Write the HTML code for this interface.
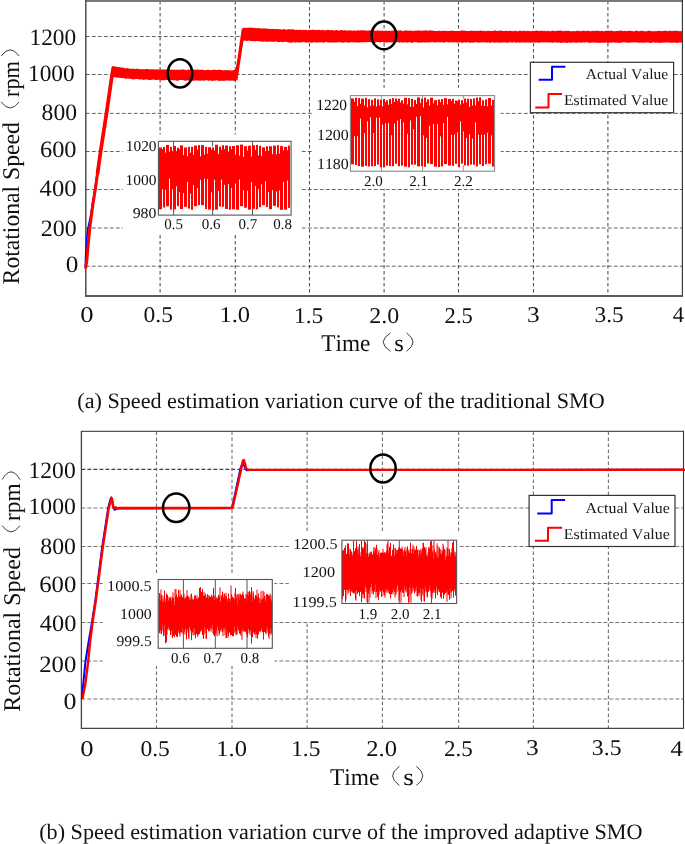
<!DOCTYPE html>
<html><head><meta charset="utf-8"><style>
html,body{margin:0;padding:0;background:#fff;}
body{width:685px;height:844px;overflow:hidden;}
svg{display:block;will-change:transform;}
text{font-family:"Liberation Serif",serif;font-kerning:none;text-rendering:geometricPrecision;}
</style></head><body>
<svg width="685" height="844" viewBox="0 0 685 844">
<rect width="685" height="844" fill="#fff"/>
<line x1="85.8" y1="266.2" x2="682.4" y2="266.2" stroke="#666" stroke-width="1" stroke-dasharray="3.9,2.1"/>
<line x1="85.8" y1="228" x2="682.4" y2="228" stroke="#666" stroke-width="1" stroke-dasharray="3.9,2.1"/>
<line x1="85.8" y1="189.5" x2="682.4" y2="189.5" stroke="#666" stroke-width="1" stroke-dasharray="3.9,2.1"/>
<line x1="85.8" y1="151.5" x2="682.4" y2="151.5" stroke="#666" stroke-width="1" stroke-dasharray="3.9,2.1"/>
<line x1="85.8" y1="113.4" x2="682.4" y2="113.4" stroke="#666" stroke-width="1" stroke-dasharray="3.9,2.1"/>
<line x1="85.8" y1="74.5" x2="682.4" y2="74.5" stroke="#666" stroke-width="1" stroke-dasharray="3.9,2.1"/>
<line x1="85.8" y1="36.5" x2="682.4" y2="36.5" stroke="#666" stroke-width="1" stroke-dasharray="3.9,2.1"/>
<line x1="160.1" y1="0.9" x2="160.1" y2="296" stroke="#555" stroke-width="1.1" stroke-dasharray="3.5,2.5"/>
<line x1="235.3" y1="0.9" x2="235.3" y2="296" stroke="#555" stroke-width="1.1" stroke-dasharray="3.5,2.5"/>
<line x1="309.5" y1="0.9" x2="309.5" y2="296" stroke="#555" stroke-width="1.1" stroke-dasharray="3.5,2.5"/>
<line x1="384.1" y1="0.9" x2="384.1" y2="296" stroke="#555" stroke-width="1.1" stroke-dasharray="3.5,2.5"/>
<line x1="458.5" y1="0.9" x2="458.5" y2="296" stroke="#555" stroke-width="1.1" stroke-dasharray="3.5,2.5"/>
<line x1="533.5" y1="0.9" x2="533.5" y2="296" stroke="#555" stroke-width="1.1" stroke-dasharray="3.5,2.5"/>
<line x1="607.9" y1="0.9" x2="607.9" y2="296" stroke="#555" stroke-width="1.1" stroke-dasharray="3.5,2.5"/>
<line x1="85" y1="0.9" x2="683" y2="0.9" stroke="#7a7a7a" stroke-width="2"/>
<line x1="85.8" y1="0" x2="85.8" y2="297" stroke="#4d4d4d" stroke-width="1.5"/>
<line x1="682.4" y1="0" x2="682.4" y2="297" stroke="#2e2e2e" stroke-width="1.1"/>
<line x1="85" y1="296" x2="683" y2="296" stroke="#5a5a5a" stroke-width="1.8"/>
<polyline points="85.3,266.5 85.6,256 86.3,245 87.6,230 90.8,215 92.2,205 94.8,189.5 100.1,151.5 106,113.4 112.5,74.6 235.5,74.6 243.5,36.6 682,36.6" fill="none" stroke="#0000ff" stroke-width="1.6" stroke-linejoin="round"/>
<polyline points="85.7,267.6 86.8,261 87.7,250 88.6,240 89.8,228 92.8,205 95.3,189.5 98,170" fill="none" stroke="#ff0000" stroke-width="3" stroke-linejoin="round" stroke-linecap="round"/>
<polyline points="97.6,173 100.6,151.5 106.5,113.4 110.6,85 113.2,68" fill="none" stroke="#ff0000" stroke-width="3.7" stroke-linejoin="round" stroke-linecap="round"/>
<polygon points="112.6,66.26 113.8,66.22 115,66.72 116,66.42 117,66.95 118,66.97 119,66.89 120,67.41 121,67.19 122,67.67 123,67.54 124,67.71 125,68.14 126,68.53 127,68.03 128,68.18 129,68.57 130,68.89 131,68.66 132,68.58 133,69.11 134,68.44 135,69.15 136,68.77 137,68.72 138,68.76 139,68.98 140,69.45 141,68.95 142,69.29 143,69.34 144,69.14 145,69.29 146,68.91 147,68.92 148,69.04 149,69.43 150,69.24 151,69.16 152,69.39 153,69.29 154,69.18 155,69.59 156,69.52 157,69.17 158,69.44 159,69.41 160,69.7 161,69.59 162,69.25 163,69.81 164,69.13 165,69.38 166,69.67 167,69.19 168,69.47 169,69.12 170,69.63 171,69.72 172,69.58 173,69.83 174,69.39 175,69.71 176,69.64 177,69.63 178,69.54 179,69.86 180,69.96 181.01,69.59 182.02,69.75 183.03,69.28 184.04,69.8 185.04,69.77 186.05,70.06 187.06,69.93 188.07,69.51 189.08,69.61 190.09,69.84 191.1,69.34 192.11,69.7 193.12,69.47 194.12,69.44 195.13,69.41 196.14,69.99 197.15,69.49 198.16,69.59 199.17,69.72 200.18,70.11 201.19,69.49 202.2,69.8 203.21,69.89 204.21,70.16 205.22,70.12 206.23,70.17 207.24,69.71 208.25,69.83 209.26,69.8 210.27,70.23 211.28,70.3 212.29,69.66 213.29,69.69 214.3,69.75 215.31,69.76 216.32,69.97 217.33,70.07 218.34,69.82 219.35,69.62 220.36,69.96 221.37,69.93 222.38,70.1 223.38,70.42 224.39,70.22 225.4,70.09 226.41,70.19 227.42,70.24 228.43,69.76 229.44,70.44 230.45,70.36 231.46,70.45 232.46,70.4 233.47,70.08 234.48,70.1 235.49,69.87 236.5,70.2 236.5,80.8 235.49,80.76 234.48,80.67 233.47,81.1 232.46,80.47 231.46,80.69 230.45,80.55 229.44,80.81 228.43,80.52 227.42,80.55 226.41,80.51 225.4,80.47 224.39,80.95 223.38,80.98 222.38,80.62 221.37,81.01 220.36,80.68 219.35,80.77 218.34,81.02 217.33,80.24 216.32,80.33 215.31,80.65 214.3,80.48 213.29,80.72 212.29,80.97 211.28,80.84 210.27,80.28 209.26,80.8 208.25,80.87 207.24,80.26 206.23,80.23 205.22,80.26 204.21,80.69 203.21,80.86 202.2,80.42 201.19,80.4 200.18,80.86 199.17,80.71 198.16,80.33 197.15,80.68 196.14,80.19 195.13,80.42 194.12,80.63 193.12,80.64 192.11,80.73 191.1,80.53 190.09,80.06 189.08,80.62 188.07,80.49 187.06,80.35 186.05,80.63 185.04,80.66 184.04,80.43 183.03,80.09 182.02,80.08 181.01,80.09 180,80.08 179,80.17 178,80.63 177,80.64 176,80.58 175,80.17 174,80.56 173,80.33 172,79.97 171,79.97 170,79.75 169,79.73 168,79.97 167,80.09 166,79.84 165,80.23 164,80.27 163,80.25 162,80.27 161,80.36 160,80.2 159,79.71 158,79.78 157,80.12 156,79.91 155,80.08 154,79.58 153,79.72 152,79.62 151,79.95 150,80.07 149,80.14 148,79.76 147,79.34 146,79.74 145,79.4 144,79.69 143,80.01 142,79.25 141,79.35 140,79.86 139,79.34 138,79.33 137,79.07 136,78.99 135,79.24 134,79.15 133,79.5 132,79.32 131,78.67 130,78.79 129,78.71 128,78.56 127,78.41 126,78.71 125,78.85 124,78.1 123,78.3 122,78.02 121,77.99 120,77.8 119,77.7 118,77.79 117,77.5 116,77.4 115,77.14 114,76.99 113,77.31" fill="#ff0000"/>
<polyline points="235.9,79.8 239.6,55 243.4,29" fill="none" stroke="#ff0000" stroke-width="3.3" stroke-linejoin="round"/>
<polygon points="242.5,27.67 243.57,27.95 244.64,27.59 245.71,28.02 246.79,27.72 247.86,27.77 248.93,27.79 250,27.41 251,27.8 252,27.65 253,27.55 254,28.24 255,27.79 256,28.08 257,28.33 258,28.25 259,28.11 260,28.31 261,28.39 262,28.63 263,28.13 264,28.55 265,28.35 266,28.42 267,28.87 268,28.71 269,28.8 270,29.01 271,29.16 272,28.82 273,28.99 274,28.94 275,28.98 276,29.15 277,29 278,29.09 279,29.08 280,29.49 281,29.33 282,29.5 283,29.59 284,29.07 285,29.35 286,29.69 287,29.64 288,29.11 289,29.13 290,29.42 291,29.16 292,29.33 293,29.23 294,29.74 295,29.86 296,29.98 297,29.42 298,29.91 299,29.89 300,29.51 301,30.12 302,30.2 303,29.62 304,30.22 305,29.79 306,29.87 307,30.29 308,30.17 309,29.65 310,29.88 311,29.96 312,29.83 313,29.73 314,29.84 315,30.18 316,29.63 317,30.07 318,29.99 319,29.67 320,29.93 321,30.18 322,30.1 323,29.76 324,30.51 325,30.36 326,30.52 327,29.84 328,29.99 329,29.82 330,30.42 331,30.03 332,29.93 333,30.18 334,30.58 335,30.52 336,30.09 337,30.01 338,30.64 339,30.38 340,30.49 341,30.02 342,30.01 343,30.52 344,30.33 345,30.06 346,30.76 347,30.53 348,30.68 349,30.12 350,30.75 351,30.13 352,30.78 353,30.47 354,30.39 355,30.58 356,30.89 357,30.37 358,30.28 359,30.61 360,30.39 361,30.29 362,30.33 363,30.25 364,30.37 365,30.46 366,30.46 367,30.82 368,30.45 369,30.62 370,30.36 371,30.5 372,30.24 373,30.43 374,30.24 375,30.82 376,30.68 377,30.39 378,30.62 379,30.99 380,30.33 381,30.9 382,30.59 383,30.65 384,30.92 385,30.57 386,30.66 387,30.81 388,31.05 389,30.54 390,30.93 391,30.83 392,30.78 393,30.59 394,30.55 395,30.32 396,30.38 397,30.34 398,30.87 399,30.49 400,30.42 401,30.36 402,30.96 403,30.99 404,30.83 405,30.52 406,30.49 407,30.54 408,30.67 409,30.43 410,30.66 411,30.52 412,31.08 413,31.09 414,30.75 415,30.51 416,31.09 417,30.57 418,30.61 419,30.33 420,30.63 421,30.71 422,30.74 423,30.5 424,30.74 425,30.34 426,30.55 427,30.42 428,30.67 429,30.38 430,30.37 431,30.6 432,30.54 433,30.82 434,30.78 435,30.96 436,30.89 437,30.94 438,31.07 439,30.68 440,30.63 441,31.16 442,30.5 443,30.96 444,30.89 445,30.42 446,31.05 447,31.1 448,30.89 449,30.98 450,31.04 451,30.51 452,30.82 453,30.8 454,31.07 455,31.05 456,31.07 457,30.88 458,31.12 459,30.96 460,30.97 461,30.6 462,30.44 463,30.53 464,30.71 465,30.51 466,31.1 467,30.88 468,30.93 469,30.93 470,30.98 471,30.83 472,30.44 473,31.08 474,31.04 475,30.85 476,30.88 477,30.98 478,30.51 479,31.04 480,30.66 481,30.52 482,30.67 483,31.05 484,30.63 485,31.06 486,31.25 487,30.87 488,30.78 489,30.86 490,31.03 491,31.09 492,30.98 493,31 494,30.55 495,30.61 496,30.69 497,31.09 498,30.74 499,30.95 500,30.51 501,30.55 502,30.72 503,31.04 504,31.06 505,31.04 506,30.74 507,30.92 508,30.88 509,30.88 510,30.6 511,31.22 512,30.67 513,31.29 514,31.26 515,30.52 516,30.88 517,31.17 518,31.28 519,30.87 520,30.73 521,30.68 522,31.27 523,30.68 524,30.98 525,30.63 526,30.93 527,31.28 528,30.62 529,31.17 530,30.92 531,31.23 532,31.08 533,30.7 534,31.24 535,30.91 536,30.54 537,30.52 538,30.91 539,30.88 540,30.76 541,30.64 542,30.8 543,30.78 544,31.2 545,30.53 546,31.13 547,31.2 548,30.62 549,31.27 550,31.1 551,31.25 552,30.76 553,30.83 554,30.84 555,31.33 556,31 557,30.82 558,30.87 559,30.75 560,30.57 561,30.61 562,31.2 563,30.76 564,31.28 565,30.74 566,30.75 567,30.95 568,30.69 569,30.84 570,31.3 571,31.25 572,31.19 573,31.04 574,31.27 575,31.29 576,30.98 577,31.12 578,30.58 579,31.13 580,30.9 581,31.15 582,31.06 583,30.77 584,30.59 585,31.29 586,30.65 587,30.93 588,30.82 589,30.79 590,31.14 591,31.33 592,30.76 593,31.08 594,30.79 595,31 596,30.87 597,30.69 598,30.68 599,30.72 600,31.28 601,30.95 602,30.73 603,31.28 604,31.35 605,30.92 606,30.67 607,30.71 608,30.63 609,30.83 610,30.63 611,30.75 612,30.77 613,31.02 614,31.27 615,31.16 616,30.89 617,30.9 618,30.98 619,30.87 620,30.84 621,30.62 622,30.79 623,31.34 624,30.67 625,30.97 626,31.07 627,31.26 628,30.74 629,30.79 630,30.77 631,30.89 632,30.93 633,31.34 634,31.25 635,31.27 636,30.59 637,30.6 638,31.14 639,31.29 640,30.96 641,31.05 642,30.58 643,30.89 644,31.32 645,31.24 646,31.26 647,31.36 648,30.78 649,30.67 650,30.71 651,31 652,31.13 653,31.34 654,31.16 655,31.1 656,31.2 657,30.95 658,31.03 659,30.62 660,31.21 661,30.77 662,31.32 663,31.11 664,30.83 665,30.69 666,30.79 667,31.1 668,31.15 669,30.68 670,30.65 671,31.01 672,31.06 673,30.91 674,30.77 675,31.08 676,30.61 677,30.84 678,30.97 679,31.37 680,31.11 681,31.31 682,31 682,42.7 681,42.54 680,42.55 679,42.44 678,42.95 677,42.81 676,42.7 675,42.78 674,42.45 673,42.4 672,43.04 671,42.73 670,42.3 669,42.91 668,42.33 667,42.47 666,42.61 665,42.71 664,42.32 663,43 662,42.48 661,42.86 660,43.03 659,42.63 658,42.79 657,42.55 656,42.72 655,42.79 654,42.28 653,42.48 652,42.59 651,42.89 650,42.96 649,42.77 648,42.34 647,42.38 646,42.46 645,43.01 644,42.37 643,42.64 642,42.76 641,42.42 640,42.73 639,42.72 638,42.43 637,42.54 636,42.33 635,42.53 634,42.25 633,42.26 632,42.77 631,42.43 630,42.35 629,42.96 628,42.65 627,42.59 626,42.73 625,42.36 624,42.26 623,42.24 622,42.48 621,42.76 620,42.7 619,43.02 618,42.74 617,42.43 616,42.88 615,42.27 614,42.82 613,42.37 612,42.58 611,42.83 610,42.51 609,42.68 608,43.01 607,42.43 606,42.85 605,42.53 604,42.72 603,43.01 602,42.3 601,42.92 600,42.67 599,42.65 598,42.91 597,42.49 596,42.71 595,42.63 594,42.3 593,42.83 592,42.34 591,42.92 590,42.74 589,42.95 588,42.33 587,42.34 586,42.22 585,42.45 584,42.6 583,42.4 582,42.36 581,42.92 580,42.59 579,42.3 578,42.84 577,42.4 576,42.9 575,42.31 574,42.79 573,42.46 572,42.23 571,42.92 570,42.81 569,42.31 568,42.91 567,42.94 566,42.57 565,42.96 564,42.33 563,42.82 562,42.75 561,42.96 560,42.85 559,42.27 558,42.92 557,42.46 556,42.56 555,42.2 554,42.57 553,42.78 552,42.74 551,42.22 550,42.66 549,42.19 548,42.56 547,42.51 546,42.22 545,42.49 544,42.25 543,42.23 542,42.52 541,42.29 540,42.51 539,42.77 538,42.75 537,42.33 536,42.53 535,42.63 534,42.16 533,42.49 532,42.49 531,42.66 530,42.47 529,42.6 528,42.47 527,42.37 526,42.63 525,42.57 524,42.61 523,42.22 522,42.79 521,42.15 520,42.73 519,42.57 518,42.15 517,42.84 516,42.7 515,42.31 514,42.21 513,42.42 512,42.53 511,42.43 510,42.29 509,42.26 508,42.77 507,42.78 506,42.43 505,42.28 504,42.73 503,42.23 502,42.76 501,42.6 500,42.82 499,42.41 498,42.84 497,42.14 496,42.48 495,42.87 494,42.85 493,42.19 492,42.25 491,42.86 490,42.73 489,42.48 488,42.17 487,42.82 486,42.5 485,42.31 484,42.19 483,42.48 482,42.37 481,42.57 480,42.14 479,42.8 478,42.58 477,42.51 476,42.08 475,42.19 474,42.43 473,42.77 472,42.38 471,42.71 470,42.4 469,42.78 468,42.06 467,42.22 466,42.63 465,42.21 464,42.34 463,42.84 462,42.74 461,42.38 460,42.33 459,42.49 458,42.29 457,42.8 456,42.28 455,42.26 454,42.36 453,42.59 452,42.16 451,42.1 450,42.54 449,42.47 448,42.34 447,42.11 446,42.07 445,42.46 444,42.66 443,42.18 442,42.27 441,42.16 440,42.56 439,42.27 438,42.02 437,42.17 436,42.53 435,42.49 434,42.21 433,42.17 432,42.12 431,42.3 430,42.17 429,42.49 428,42.47 427,42.08 426,42.75 425,42.62 424,42.2 423,42.35 422,42.68 421,42.28 420,42.73 419,42.45 418,42.76 417,42.13 416,42.08 415,42.21 414,42.01 413,42.71 412,42.65 411,42.63 410,42.35 409,42.05 408,42.76 407,42.49 406,42.61 405,42.15 404,42.37 403,42.76 402,42.28 401,42.22 400,42.42 399,42.66 398,42.08 397,42.15 396,42.15 395,42.11 394,42.54 393,42.25 392,42.4 391,42.18 390,42.62 389,42.04 388,42.47 387,42.62 386,42.54 385,42.48 384,42.43 383,42.27 382,42.12 381,42.29 380,42.5 379,42.33 378,42 377,41.99 376,42.13 375,42.71 374,42.63 373,42.7 372,42.18 371,42.36 370,41.94 369,41.96 368,42.11 367,42.51 366,42.07 365,41.97 364,42.53 363,42.19 362,42.16 361,42.16 360,42.39 359,42.52 358,42.56 357,42.5 356,42.56 355,42.06 354,42.66 353,42.32 352,42.27 351,42.13 350,42.24 349,42.7 348,42.71 347,42.32 346,42.13 345,41.97 344,42.71 343,42.46 342,42.69 341,42.57 340,41.97 339,42.19 338,42.23 337,42.55 336,42.19 335,42.48 334,42.75 333,42.21 332,42.26 331,42.72 330,42.6 329,42.21 328,42.74 327,42.06 326,42.04 325,42.05 324,42.63 323,42.67 322,42.36 321,42.05 320,42.75 319,42.33 318,42.19 317,42.78 316,42.34 315,42.43 314,42.09 313,42.4 312,42.72 311,42.72 310,42.35 309,42.24 308,42.84 307,42.18 306,42.84 305,42.36 304,42.31 303,42.09 302,42.23 301,42.36 300,42.4 299,42.38 298,42.58 297,42.04 296,42.59 295,42.71 294,42.08 293,42.17 292,42.63 291,42.65 290,42.41 289,42.5 288,42.49 287,42.06 286,41.76 285,41.73 284,41.77 283,42.41 282,41.78 281,41.89 280,41.67 279,42.28 278,42.03 277,41.8 276,41.62 275,41.56 274,41.78 273,42.12 272,41.57 271,41.91 270,41.45 269,41.43 268,41.88 267,41.44 266,41.94 265,41.3 264,41.51 263,41.67 262,41.69 261,41.19 260,41.55 259,41.29 258,41.18 257,40.89 256,40.99 255,41.5 254,41.25 253,40.88 252,40.96 251,41.12 250,40.93 249,40.5 248,40.68 247,40.95 246,41.11 245,40.49 244,40.43 243,40.58" fill="#ff0000"/>
<rect x="122.7" y="134.4" width="177.8" height="99.9" fill="#fff" stroke="none" stroke-width="1"/>
<rect x="313.1" y="87.8" width="187.7" height="101.1" fill="#fff" stroke="none" stroke-width="1"/>
<line x1="173.6" y1="141.3" x2="173.6" y2="215.1" stroke="#555" stroke-width="1"/>
<line x1="212.6" y1="141.3" x2="212.6" y2="215.1" stroke="#555" stroke-width="1"/>
<line x1="252.5" y1="141.3" x2="252.5" y2="215.1" stroke="#555" stroke-width="1"/>
<rect x="158.4" y="146.5" width="132.7" height="62" fill="#fff" stroke="none" stroke-width="1"/>
<rect x="159" y="147.45" width="3" height="61.86" fill="#ff0000" stroke="none" stroke-width="1"/>
<rect x="162" y="149.05" width="1" height="40.4" fill="#ff0000" stroke="none" stroke-width="1"/>
<rect x="163" y="146.98" width="2" height="60.57" fill="#ff0000" stroke="none" stroke-width="1"/>
<rect x="165" y="152.62" width="1" height="37.25" fill="#ff0000" stroke="none" stroke-width="1"/>
<rect x="166" y="144.94" width="3" height="61.34" fill="#ff0000" stroke="none" stroke-width="1"/>
<rect x="169" y="151.68" width="1" height="26.94" fill="#ff0000" stroke="none" stroke-width="1"/>
<rect x="170" y="146.82" width="2" height="62.82" fill="#ff0000" stroke="none" stroke-width="1"/>
<rect x="172" y="151.13" width="1" height="38.26" fill="#ff0000" stroke="none" stroke-width="1"/>
<rect x="173" y="146" width="3" height="63.34" fill="#ff0000" stroke="none" stroke-width="1"/>
<rect x="176" y="151.12" width="1" height="35.25" fill="#ff0000" stroke="none" stroke-width="1"/>
<rect x="177" y="147.69" width="2" height="58.51" fill="#ff0000" stroke="none" stroke-width="1"/>
<rect x="179" y="149.12" width="1" height="42.96" fill="#ff0000" stroke="none" stroke-width="1"/>
<rect x="180" y="145.36" width="3" height="63.74" fill="#ff0000" stroke="none" stroke-width="1"/>
<rect x="183" y="154.97" width="1" height="38.15" fill="#ff0000" stroke="none" stroke-width="1"/>
<rect x="184" y="147.42" width="3" height="59.39" fill="#ff0000" stroke="none" stroke-width="1"/>
<rect x="187" y="156.26" width="1" height="25.57" fill="#ff0000" stroke="none" stroke-width="1"/>
<rect x="188" y="146.82" width="2" height="61.84" fill="#ff0000" stroke="none" stroke-width="1"/>
<rect x="190" y="152.76" width="1" height="40.91" fill="#ff0000" stroke="none" stroke-width="1"/>
<rect x="191" y="146.83" width="2" height="62.88" fill="#ff0000" stroke="none" stroke-width="1"/>
<rect x="193" y="154.8" width="1" height="30.2" fill="#ff0000" stroke="none" stroke-width="1"/>
<rect x="194" y="145.58" width="3" height="60.58" fill="#ff0000" stroke="none" stroke-width="1"/>
<rect x="197" y="149.62" width="1" height="38.34" fill="#ff0000" stroke="none" stroke-width="1"/>
<rect x="198" y="145.06" width="2" height="60.09" fill="#ff0000" stroke="none" stroke-width="1"/>
<rect x="200" y="156.43" width="1" height="23.28" fill="#ff0000" stroke="none" stroke-width="1"/>
<rect x="201" y="145.05" width="3" height="60.1" fill="#ff0000" stroke="none" stroke-width="1"/>
<rect x="204" y="154.54" width="1" height="24.13" fill="#ff0000" stroke="none" stroke-width="1"/>
<rect x="205" y="146.83" width="2" height="62.22" fill="#ff0000" stroke="none" stroke-width="1"/>
<rect x="207" y="153.72" width="1" height="25.33" fill="#ff0000" stroke="none" stroke-width="1"/>
<rect x="208" y="147.22" width="3" height="62.29" fill="#ff0000" stroke="none" stroke-width="1"/>
<rect x="211" y="149.53" width="1" height="42.73" fill="#ff0000" stroke="none" stroke-width="1"/>
<rect x="212" y="147.53" width="2" height="62.67" fill="#ff0000" stroke="none" stroke-width="1"/>
<rect x="214" y="150.65" width="1" height="29.07" fill="#ff0000" stroke="none" stroke-width="1"/>
<rect x="215" y="144.71" width="3" height="64.95" fill="#ff0000" stroke="none" stroke-width="1"/>
<rect x="218" y="154.07" width="1" height="36.92" fill="#ff0000" stroke="none" stroke-width="1"/>
<rect x="219" y="146.62" width="2" height="59.96" fill="#ff0000" stroke="none" stroke-width="1"/>
<rect x="221" y="149.78" width="1" height="29.82" fill="#ff0000" stroke="none" stroke-width="1"/>
<rect x="222" y="145.26" width="2" height="61.5" fill="#ff0000" stroke="none" stroke-width="1"/>
<rect x="224" y="149.17" width="1" height="35.61" fill="#ff0000" stroke="none" stroke-width="1"/>
<rect x="225" y="145.5" width="3" height="63.43" fill="#ff0000" stroke="none" stroke-width="1"/>
<rect x="228" y="151.57" width="1" height="32.32" fill="#ff0000" stroke="none" stroke-width="1"/>
<rect x="229" y="146.21" width="2" height="63.47" fill="#ff0000" stroke="none" stroke-width="1"/>
<rect x="231" y="149.25" width="1" height="38.64" fill="#ff0000" stroke="none" stroke-width="1"/>
<rect x="232" y="146" width="3" height="63.26" fill="#ff0000" stroke="none" stroke-width="1"/>
<rect x="235" y="154.64" width="1" height="28.91" fill="#ff0000" stroke="none" stroke-width="1"/>
<rect x="236" y="145.29" width="3" height="64.45" fill="#ff0000" stroke="none" stroke-width="1"/>
<rect x="239" y="155.56" width="1" height="23.9" fill="#ff0000" stroke="none" stroke-width="1"/>
<rect x="240" y="144.6" width="3" height="61.51" fill="#ff0000" stroke="none" stroke-width="1"/>
<rect x="243" y="156.82" width="1" height="33.37" fill="#ff0000" stroke="none" stroke-width="1"/>
<rect x="244" y="146.17" width="3" height="61.53" fill="#ff0000" stroke="none" stroke-width="1"/>
<rect x="247" y="150.48" width="1" height="40.27" fill="#ff0000" stroke="none" stroke-width="1"/>
<rect x="248" y="145.71" width="3" height="63.86" fill="#ff0000" stroke="none" stroke-width="1"/>
<rect x="251" y="156.55" width="1" height="25.62" fill="#ff0000" stroke="none" stroke-width="1"/>
<rect x="252" y="145.29" width="3" height="63.56" fill="#ff0000" stroke="none" stroke-width="1"/>
<rect x="255" y="149.88" width="1" height="36.09" fill="#ff0000" stroke="none" stroke-width="1"/>
<rect x="256" y="144.86" width="2" height="64.47" fill="#ff0000" stroke="none" stroke-width="1"/>
<rect x="258" y="155.3" width="1" height="33.86" fill="#ff0000" stroke="none" stroke-width="1"/>
<rect x="259" y="145.74" width="2" height="61.47" fill="#ff0000" stroke="none" stroke-width="1"/>
<rect x="261" y="156.12" width="1" height="28.19" fill="#ff0000" stroke="none" stroke-width="1"/>
<rect x="262" y="147.44" width="3" height="57.7" fill="#ff0000" stroke="none" stroke-width="1"/>
<rect x="265" y="151.11" width="1" height="30.19" fill="#ff0000" stroke="none" stroke-width="1"/>
<rect x="266" y="146.2" width="2" height="60.88" fill="#ff0000" stroke="none" stroke-width="1"/>
<rect x="268" y="150.87" width="1" height="41.28" fill="#ff0000" stroke="none" stroke-width="1"/>
<rect x="269" y="146.3" width="3" height="62.85" fill="#ff0000" stroke="none" stroke-width="1"/>
<rect x="272" y="154.17" width="1" height="35.88" fill="#ff0000" stroke="none" stroke-width="1"/>
<rect x="273" y="145.65" width="3" height="60.21" fill="#ff0000" stroke="none" stroke-width="1"/>
<rect x="276" y="154.3" width="1" height="37.19" fill="#ff0000" stroke="none" stroke-width="1"/>
<rect x="277" y="145.14" width="2" height="62.27" fill="#ff0000" stroke="none" stroke-width="1"/>
<rect x="279" y="153.63" width="1" height="36.74" fill="#ff0000" stroke="none" stroke-width="1"/>
<rect x="280" y="146.08" width="3" height="63.79" fill="#ff0000" stroke="none" stroke-width="1"/>
<rect x="283" y="150.53" width="1" height="31.27" fill="#ff0000" stroke="none" stroke-width="1"/>
<rect x="284" y="146.85" width="3" height="62.79" fill="#ff0000" stroke="none" stroke-width="1"/>
<rect x="287" y="150.25" width="1" height="30.23" fill="#ff0000" stroke="none" stroke-width="1"/>
<rect x="288" y="145.65" width="2" height="62.23" fill="#ff0000" stroke="none" stroke-width="1"/>
<rect x="158.4" y="141.3" width="132.7" height="73.8" fill="none" stroke="#555" stroke-width="1.1"/>
<text transform="translate(125.74,151) scale(1.0281,1)" font-size="15" fill="#111">1020</text>
<text transform="translate(125.44,184.6) scale(1.0316,1)" font-size="15" fill="#111">1000</text>
<text transform="translate(132.69,218.4) scale(1.0538,1)" font-size="15" fill="#111">980</text>
<text transform="translate(164.13,229.4) scale(1.0000,1)" font-size="15" fill="#111">0.5</text>
<text transform="translate(201.86,229.4) scale(1.0000,1)" font-size="15" fill="#111">0.6</text>
<text transform="translate(238.46,229.4) scale(1.0000,1)" font-size="15" fill="#111">0.7</text>
<text transform="translate(273.23,229.4) scale(1.0000,1)" font-size="15" fill="#111">0.8</text>
<line x1="381.6" y1="95.6" x2="381.6" y2="171.2" stroke="#999" stroke-width="1"/>
<line x1="422.5" y1="95.6" x2="422.5" y2="171.2" stroke="#999" stroke-width="1"/>
<line x1="463.3" y1="95.6" x2="463.3" y2="171.2" stroke="#999" stroke-width="1"/>
<rect x="350.4" y="99" width="144.2" height="66" fill="#fff" stroke="none" stroke-width="1"/>
<line x1="350.4" y1="134.4" x2="494.6" y2="134.4" stroke="#d0d0d0" stroke-width="0.8"/>
<rect x="351" y="98.42" width="3" height="65.84" fill="#ff0000" stroke="none" stroke-width="1"/>
<rect x="354" y="101.71" width="1" height="34.41" fill="#ff0000" stroke="none" stroke-width="1"/>
<rect x="355" y="97.72" width="2" height="67.32" fill="#ff0000" stroke="none" stroke-width="1"/>
<rect x="357" y="106.13" width="1" height="30.02" fill="#ff0000" stroke="none" stroke-width="1"/>
<rect x="358" y="98.01" width="2" height="68.04" fill="#ff0000" stroke="none" stroke-width="1"/>
<rect x="360" y="103.72" width="1" height="14.87" fill="#ff0000" stroke="none" stroke-width="1"/>
<rect x="361" y="98.64" width="3" height="68.03" fill="#ff0000" stroke="none" stroke-width="1"/>
<rect x="364" y="105.43" width="1" height="27.64" fill="#ff0000" stroke="none" stroke-width="1"/>
<rect x="365" y="97.84" width="2" height="68.08" fill="#ff0000" stroke="none" stroke-width="1"/>
<rect x="367" y="107.36" width="1" height="13.95" fill="#ff0000" stroke="none" stroke-width="1"/>
<rect x="368" y="99.18" width="2" height="67.32" fill="#ff0000" stroke="none" stroke-width="1"/>
<rect x="370" y="106.06" width="1" height="11.23" fill="#ff0000" stroke="none" stroke-width="1"/>
<rect x="371" y="99.8" width="2" height="66.5" fill="#ff0000" stroke="none" stroke-width="1"/>
<rect x="373" y="105.49" width="1" height="27.51" fill="#ff0000" stroke="none" stroke-width="1"/>
<rect x="374" y="98.37" width="2" height="67.64" fill="#ff0000" stroke="none" stroke-width="1"/>
<rect x="376" y="106.48" width="1" height="11.27" fill="#ff0000" stroke="none" stroke-width="1"/>
<rect x="377" y="99.35" width="2" height="65.15" fill="#ff0000" stroke="none" stroke-width="1"/>
<rect x="379" y="105.35" width="1" height="12.2" fill="#ff0000" stroke="none" stroke-width="1"/>
<rect x="380" y="99.49" width="2" height="67.73" fill="#ff0000" stroke="none" stroke-width="1"/>
<rect x="382" y="106.45" width="1" height="18.06" fill="#ff0000" stroke="none" stroke-width="1"/>
<rect x="383" y="98.92" width="2" height="68.48" fill="#ff0000" stroke="none" stroke-width="1"/>
<rect x="385" y="102.13" width="1" height="21.17" fill="#ff0000" stroke="none" stroke-width="1"/>
<rect x="386" y="100.32" width="2" height="65.26" fill="#ff0000" stroke="none" stroke-width="1"/>
<rect x="388" y="104.79" width="1" height="18.28" fill="#ff0000" stroke="none" stroke-width="1"/>
<rect x="389" y="98.99" width="2" height="67.07" fill="#ff0000" stroke="none" stroke-width="1"/>
<rect x="391" y="103.87" width="1" height="31.39" fill="#ff0000" stroke="none" stroke-width="1"/>
<rect x="392" y="98.05" width="2" height="68.19" fill="#ff0000" stroke="none" stroke-width="1"/>
<rect x="394" y="101.86" width="1" height="21.65" fill="#ff0000" stroke="none" stroke-width="1"/>
<rect x="395" y="98.5" width="2" height="65.22" fill="#ff0000" stroke="none" stroke-width="1"/>
<rect x="397" y="101.09" width="1" height="19.44" fill="#ff0000" stroke="none" stroke-width="1"/>
<rect x="398" y="98.7" width="2" height="67.59" fill="#ff0000" stroke="none" stroke-width="1"/>
<rect x="400" y="102.57" width="1" height="16.58" fill="#ff0000" stroke="none" stroke-width="1"/>
<rect x="401" y="100.31" width="2" height="65.29" fill="#ff0000" stroke="none" stroke-width="1"/>
<rect x="403" y="103.74" width="1" height="18.72" fill="#ff0000" stroke="none" stroke-width="1"/>
<rect x="404" y="97.8" width="3" height="68.81" fill="#ff0000" stroke="none" stroke-width="1"/>
<rect x="407" y="104.28" width="1" height="29.42" fill="#ff0000" stroke="none" stroke-width="1"/>
<rect x="408" y="98.1" width="2" height="69.25" fill="#ff0000" stroke="none" stroke-width="1"/>
<rect x="410" y="106.73" width="1" height="13.57" fill="#ff0000" stroke="none" stroke-width="1"/>
<rect x="411" y="98.85" width="2" height="65.83" fill="#ff0000" stroke="none" stroke-width="1"/>
<rect x="413" y="106.84" width="1" height="22.43" fill="#ff0000" stroke="none" stroke-width="1"/>
<rect x="414" y="100.04" width="2" height="64.53" fill="#ff0000" stroke="none" stroke-width="1"/>
<rect x="416" y="103.98" width="1" height="12.74" fill="#ff0000" stroke="none" stroke-width="1"/>
<rect x="417" y="97.41" width="3" height="68.98" fill="#ff0000" stroke="none" stroke-width="1"/>
<rect x="420" y="103.11" width="1" height="12.97" fill="#ff0000" stroke="none" stroke-width="1"/>
<rect x="421" y="98.73" width="2" height="67.32" fill="#ff0000" stroke="none" stroke-width="1"/>
<rect x="423" y="107.5" width="1" height="27.96" fill="#ff0000" stroke="none" stroke-width="1"/>
<rect x="424" y="97.58" width="2" height="69.23" fill="#ff0000" stroke="none" stroke-width="1"/>
<rect x="426" y="101.98" width="1" height="35.99" fill="#ff0000" stroke="none" stroke-width="1"/>
<rect x="427" y="99.36" width="2" height="64.2" fill="#ff0000" stroke="none" stroke-width="1"/>
<rect x="429" y="105.59" width="1" height="20.12" fill="#ff0000" stroke="none" stroke-width="1"/>
<rect x="430" y="97.71" width="3" height="66.36" fill="#ff0000" stroke="none" stroke-width="1"/>
<rect x="433" y="103.43" width="1" height="20.47" fill="#ff0000" stroke="none" stroke-width="1"/>
<rect x="434" y="100.2" width="3" height="66.46" fill="#ff0000" stroke="none" stroke-width="1"/>
<rect x="437" y="105.26" width="1" height="18.86" fill="#ff0000" stroke="none" stroke-width="1"/>
<rect x="438" y="99.47" width="2" height="67.6" fill="#ff0000" stroke="none" stroke-width="1"/>
<rect x="440" y="102.38" width="1" height="33.93" fill="#ff0000" stroke="none" stroke-width="1"/>
<rect x="441" y="99.05" width="2" height="67.42" fill="#ff0000" stroke="none" stroke-width="1"/>
<rect x="443" y="104.89" width="1" height="18.29" fill="#ff0000" stroke="none" stroke-width="1"/>
<rect x="444" y="98.13" width="3" height="65.93" fill="#ff0000" stroke="none" stroke-width="1"/>
<rect x="447" y="104.27" width="1" height="12.55" fill="#ff0000" stroke="none" stroke-width="1"/>
<rect x="448" y="98.92" width="3" height="66.57" fill="#ff0000" stroke="none" stroke-width="1"/>
<rect x="451" y="101.05" width="1" height="33.82" fill="#ff0000" stroke="none" stroke-width="1"/>
<rect x="452" y="98.85" width="2" height="66.9" fill="#ff0000" stroke="none" stroke-width="1"/>
<rect x="454" y="103.62" width="1" height="30.65" fill="#ff0000" stroke="none" stroke-width="1"/>
<rect x="455" y="100.38" width="2" height="63.42" fill="#ff0000" stroke="none" stroke-width="1"/>
<rect x="457" y="101.2" width="1" height="31.2" fill="#ff0000" stroke="none" stroke-width="1"/>
<rect x="458" y="99.52" width="2" height="67.71" fill="#ff0000" stroke="none" stroke-width="1"/>
<rect x="460" y="104.57" width="1" height="16.81" fill="#ff0000" stroke="none" stroke-width="1"/>
<rect x="461" y="100.18" width="2" height="63.45" fill="#ff0000" stroke="none" stroke-width="1"/>
<rect x="463" y="103.37" width="1" height="28.08" fill="#ff0000" stroke="none" stroke-width="1"/>
<rect x="464" y="98.54" width="2" height="66.86" fill="#ff0000" stroke="none" stroke-width="1"/>
<rect x="466" y="102.48" width="1" height="35.55" fill="#ff0000" stroke="none" stroke-width="1"/>
<rect x="467" y="98.71" width="2" height="67.01" fill="#ff0000" stroke="none" stroke-width="1"/>
<rect x="469" y="106.79" width="1" height="27.45" fill="#ff0000" stroke="none" stroke-width="1"/>
<rect x="470" y="98.96" width="2" height="65.63" fill="#ff0000" stroke="none" stroke-width="1"/>
<rect x="472" y="105.58" width="1" height="33" fill="#ff0000" stroke="none" stroke-width="1"/>
<rect x="473" y="98.43" width="2" height="66.34" fill="#ff0000" stroke="none" stroke-width="1"/>
<rect x="475" y="105.44" width="1" height="16.98" fill="#ff0000" stroke="none" stroke-width="1"/>
<rect x="476" y="97.52" width="2" height="68.87" fill="#ff0000" stroke="none" stroke-width="1"/>
<rect x="478" y="101.35" width="1" height="33.35" fill="#ff0000" stroke="none" stroke-width="1"/>
<rect x="479" y="97.42" width="2" height="66.84" fill="#ff0000" stroke="none" stroke-width="1"/>
<rect x="481" y="105.61" width="1" height="29.09" fill="#ff0000" stroke="none" stroke-width="1"/>
<rect x="482" y="100.22" width="2" height="65.73" fill="#ff0000" stroke="none" stroke-width="1"/>
<rect x="484" y="105.87" width="1" height="28.51" fill="#ff0000" stroke="none" stroke-width="1"/>
<rect x="485" y="99.51" width="2" height="64.84" fill="#ff0000" stroke="none" stroke-width="1"/>
<rect x="487" y="106.34" width="1" height="26.43" fill="#ff0000" stroke="none" stroke-width="1"/>
<rect x="488" y="97.96" width="3" height="65.69" fill="#ff0000" stroke="none" stroke-width="1"/>
<rect x="491" y="105.59" width="1" height="29.78" fill="#ff0000" stroke="none" stroke-width="1"/>
<rect x="492" y="99.95" width="2" height="66.7" fill="#ff0000" stroke="none" stroke-width="1"/>
<rect x="350.4" y="95.6" width="144.2" height="75.6" fill="none" stroke="#8a8a8a" stroke-width="1.1"/>
<text transform="translate(316.24,110.4) scale(0.9949,1)" font-size="15.5" fill="#0a0a0a">1220</text>
<text transform="translate(316.9,139.8) scale(1.0294,1)" font-size="15.5" fill="#111">1200</text>
<text transform="translate(316.9,168.8) scale(1.0294,1)" font-size="15.5" fill="#111">1180</text>
<text transform="translate(364.08,185.7) scale(1.0000,1)" font-size="15" fill="#111">2.0</text>
<text transform="translate(409.15,185.7) scale(1.0000,1)" font-size="15" fill="#111">2.1</text>
<text transform="translate(454.01,185.7) scale(1.0000,1)" font-size="15" fill="#111">2.2</text>
<rect x="530.4" y="62.3" width="143.2" height="50.4" fill="#fff" stroke="#333" stroke-width="1.2"/>
<polyline points="538.6,79.8 552,79.8 552,66.7 565.4,66.7" fill="none" stroke="#0000ff" stroke-width="2" stroke-linejoin="round"/>
<polyline points="535.3,107.6 548.5,107.6 548.5,94 562,94" fill="none" stroke="#ff0000" stroke-width="2" stroke-linejoin="round"/>
<text transform="translate(585.75,79.3) scale(1.0370,1)" font-size="15" fill="#1a1a1a">Actual Value</text>
<text transform="translate(563.95,105.2) scale(1.0477,1)" font-size="15" fill="#1a1a1a">Estimated Value</text>
<ellipse cx="180" cy="73.4" rx="12.3" ry="14.1" fill="none" stroke="#000" stroke-width="2.5"/>
<ellipse cx="383.9" cy="35.4" rx="12.4" ry="13.9" fill="none" stroke="#000" stroke-width="2.5"/>
<text transform="translate(29.45,44.9) scale(0.9946,1)" font-size="23.5" fill="#111">1200</text>
<text transform="translate(27.95,81) scale(0.9946,1)" font-size="23.5" fill="#111">1000</text>
<text transform="translate(41.6,120.4) scale(1.0042,1)" font-size="23.5" fill="#111">800</text>
<text transform="translate(39.95,157.3) scale(1.0376,1)" font-size="23.5" fill="#111">600</text>
<text transform="translate(39.62,195.6) scale(1.0473,1)" font-size="23.5" fill="#111">400</text>
<text transform="translate(40.85,235.6) scale(1.0173,1)" font-size="23.5" fill="#111">200</text>
<text transform="translate(65.74,272.3) scale(1.0743,1)" font-size="23.5" fill="#111">0</text>
<text transform="translate(80.18,322.2) scale(1.1850,1)" font-size="22.5" fill="#111">0</text>
<text transform="translate(143.6,322.3) scale(1.0459,1)" font-size="22.5" fill="#111">0.5</text>
<text transform="translate(219.44,322.3) scale(1.0913,1)" font-size="22.5" fill="#111">1.0</text>
<text transform="translate(294.04,322.6) scale(1.0408,1)" font-size="22.5" fill="#111">1.5</text>
<text transform="translate(369.25,322.6) scale(1.0655,1)" font-size="22.5" fill="#111">2.0</text>
<text transform="translate(444.61,322.6) scale(1.0016,1)" font-size="22.5" fill="#111">2.5</text>
<text transform="translate(526.88,322.2) scale(1.1297,1)" font-size="22.5" fill="#111">3</text>
<text transform="translate(594.49,322.2) scale(1.0356,1)" font-size="22.5" fill="#111">3.5</text>
<text transform="translate(672.76,322.3) scale(1.0039,1)" font-size="22.5" fill="#111">4</text>
<line x1="81.4" y1="699" x2="683.5" y2="699" stroke="#777" stroke-width="1" stroke-dasharray="3.9,2.1"/>
<line x1="81.4" y1="661" x2="683.5" y2="661" stroke="#777" stroke-width="1" stroke-dasharray="3.9,2.1"/>
<line x1="81.4" y1="622.5" x2="683.5" y2="622.5" stroke="#777" stroke-width="1" stroke-dasharray="3.9,2.1"/>
<line x1="81.4" y1="583.5" x2="683.5" y2="583.5" stroke="#777" stroke-width="1" stroke-dasharray="3.9,2.1"/>
<line x1="81.4" y1="546.5" x2="683.5" y2="546.5" stroke="#777" stroke-width="1" stroke-dasharray="3.9,2.1"/>
<line x1="81.4" y1="508" x2="683.5" y2="508" stroke="#777" stroke-width="1" stroke-dasharray="3.9,2.1"/>
<line x1="81.4" y1="469.3" x2="683.5" y2="469.3" stroke="#111" stroke-width="1" stroke-dasharray="3.9,2.1"/>
<line x1="156.5" y1="431.4" x2="156.5" y2="728.3" stroke="#707070" stroke-width="1.1" stroke-dasharray="3.5,2.5"/>
<line x1="232" y1="431.4" x2="232" y2="728.3" stroke="#707070" stroke-width="1.1" stroke-dasharray="3.5,2.5"/>
<line x1="307.1" y1="431.4" x2="307.1" y2="728.3" stroke="#707070" stroke-width="1.1" stroke-dasharray="3.5,2.5"/>
<line x1="382.4" y1="431.4" x2="382.4" y2="728.3" stroke="#707070" stroke-width="1.1" stroke-dasharray="3.5,2.5"/>
<line x1="458.6" y1="431.4" x2="458.6" y2="728.3" stroke="#707070" stroke-width="1.1" stroke-dasharray="3.5,2.5"/>
<line x1="533.4" y1="431.4" x2="533.4" y2="728.3" stroke="#707070" stroke-width="1.1" stroke-dasharray="3.5,2.5"/>
<line x1="608.4" y1="431.4" x2="608.4" y2="728.3" stroke="#707070" stroke-width="1.1" stroke-dasharray="3.5,2.5"/>
<line x1="81" y1="431.4" x2="684" y2="431.4" stroke="#555" stroke-width="1.2"/>
<line x1="81.4" y1="431" x2="81.4" y2="729" stroke="#444" stroke-width="1.3"/>
<line x1="683.5" y1="431" x2="683.5" y2="729" stroke="#333" stroke-width="1.1"/>
<line x1="81" y1="728.3" x2="684" y2="728.3" stroke="#444" stroke-width="1.3"/>
<polyline points="81.8,699 85.4,662 88.3,643.7 92,622 95.4,600 102.3,546.4 108.2,508 110.2,500 111.2,497.5 112.2,501 113.2,507.5 114.6,509.8 116.5,508.8 118.5,508.4 232,508.3 240.6,468 242.6,462.5 244.6,466.5 246.5,470.2 250,470 683.4,469.8" fill="none" stroke="#0000ff" stroke-width="2" stroke-linejoin="round"/>
<polyline points="82.4,699 85.4,683.4 88.3,660.6 90.1,641.5 92.6,622 95.9,600 102.9,546.4 108.8,508 110.6,501 111.6,497.8 112.4,501 113.2,506.5 114.2,508.6 115.4,507.2 116.6,508.4 118.5,508 232.5,507.9 241,470 243,460.5 243.8,460 244.8,463 246.2,468.5 248.5,469.9 685,469.8" fill="none" stroke="#ff0000" stroke-width="2.4" stroke-linejoin="round"/>
<rect x="102.8" y="573.5" width="171.5" height="92.3" fill="#fff" stroke="none" stroke-width="1"/>
<rect x="288.8" y="531.9" width="170.8" height="89.4" fill="#fff" stroke="none" stroke-width="1"/>
<line x1="183.4" y1="579.5" x2="183.4" y2="648.3" stroke="#555" stroke-width="1"/>
<line x1="215.3" y1="579.5" x2="215.3" y2="648.3" stroke="#555" stroke-width="1"/>
<line x1="247" y1="579.5" x2="247" y2="648.3" stroke="#555" stroke-width="1"/>
<path d="M159.00 598.9V630.9M159.50 593.1V633.2M160.00 593.7V631.3M160.50 600.7V630.0M161.00 589.4V633.9M161.50 595.5V634.1M162.00 595.3V631.3M162.50 601.6V624.7M163.00 598.9V629.7M163.50 602.4V636.0M164.00 595.8V632.7M164.50 590.5V625.4M165.00 600.8V635.8M165.50 602.0V643.3M166.00 598.3V637.3M166.50 593.4V642.3M167.00 598.1V634.8M167.50 594.8V629.5M168.00 600.0V625.6M168.50 600.8V627.5M169.00 596.7V630.1M169.50 598.1V630.1M170.00 600.4V630.1M170.50 598.0V635.1M171.00 596.6V631.3M171.50 601.2V629.9M172.00 599.9V634.6M172.50 597.3V638.0M173.00 592.3V635.0M173.50 597.7V636.0M174.00 602.3V635.7M174.50 605.4V637.1M175.00 589.0V633.2M175.50 596.2V634.8M176.00 589.3V631.3M176.50 594.2V636.4M177.00 596.4V637.0M177.50 597.3V636.9M178.00 601.6V631.7M178.50 589.7V629.9M179.00 599.9V633.1M179.50 596.5V634.4M180.00 590.0V636.6M180.50 597.2V632.2M181.00 594.7V632.0M181.50 594.7V632.3M182.00 598.7V632.6M182.50 597.3V628.0M183.00 596.7V634.1M183.50 597.8V630.1M184.00 593.7V629.5M184.50 598.8V631.6M185.00 598.7V634.6M185.50 598.0V628.7M186.00 596.8V627.5M186.50 596.5V639.4M187.00 590.1V626.7M187.50 595.4V629.5M188.00 604.2V632.6M188.50 596.5V637.3M189.00 596.9V639.0M189.50 600.4V626.3M190.00 598.3V628.0M190.50 599.9V630.0M191.00 594.4V631.5M191.50 593.6V640.2M192.00 597.0V631.4M192.50 600.4V632.3M193.00 599.0V635.3M193.50 599.8V628.8M194.00 601.4V635.0M194.50 596.4V628.3M195.00 594.9V635.0M195.50 595.9V638.4M196.00 598.5V630.9M196.50 598.9V634.0M197.00 595.2V633.7M197.50 598.8V636.6M198.00 600.9V635.2M198.50 597.6V634.7M199.00 597.5V633.2M199.50 587.9V633.9M200.00 596.2V632.2M200.50 587.2V631.0M201.00 598.4V627.7M201.50 591.8V629.5M202.00 592.2V631.9M202.50 589.1V635.0M203.00 603.5V633.9M203.50 595.9V639.0M204.00 591.9V634.5M204.50 595.6V627.3M205.00 600.0V633.5M205.50 593.8V628.5M206.00 596.4V638.8M206.50 598.0V638.8M207.00 599.9V629.6M207.50 594.2V629.1M208.00 594.9V625.3M208.50 598.9V631.4M209.00 595.5V630.3M209.50 596.4V630.8M210.00 601.9V629.0M210.50 596.8V627.6M211.00 602.0V631.8M211.50 594.7V627.7M212.00 595.7V629.7M212.50 597.2V624.7M213.00 601.1V633.0M213.50 587.8V634.9M214.00 596.1V632.2M214.50 600.7V636.1M215.00 595.3V634.0M215.50 599.9V629.3M216.00 597.2V633.3M216.50 599.1V630.0M217.00 597.2V636.3M217.50 598.6V626.1M218.00 600.5V628.2M218.50 594.8V630.6M219.00 599.0V635.6M219.50 595.9V633.4M220.00 587.4V631.7M220.50 601.8V630.3M221.00 600.7V628.5M221.50 595.4V628.6M222.00 597.0V632.2M222.50 591.6V631.2M223.00 594.0V636.1M223.50 597.6V628.1M224.00 600.6V630.9M224.50 593.7V628.5M225.00 595.9V635.2M225.50 598.8V627.6M226.00 592.8V638.2M226.50 595.9V637.8M227.00 599.4V634.3M227.50 601.8V631.3M228.00 598.3V638.0M228.50 593.6V635.9M229.00 599.5V631.1M229.50 598.8V632.6M230.00 598.8V628.8M230.50 601.4V635.3M231.00 585.5V627.3M231.50 594.2V635.0M232.00 595.8V629.3M232.50 597.1V636.2M233.00 597.9V631.0M233.50 597.8V636.2M234.00 598.3V632.0M234.50 599.7V626.4M235.00 592.6V633.3M235.50 587.9V631.2M236.00 595.5V635.3M236.50 598.7V634.0M237.00 594.3V634.7M237.50 604.6V626.3M238.00 594.0V630.9M238.50 596.7V629.7M239.00 594.6V625.7M239.50 599.9V633.6M240.00 593.3V625.9M240.50 594.4V634.1M241.00 599.2V636.0M241.50 595.2V630.5M242.00 595.3V639.7M242.50 593.6V629.3M243.00 591.5V631.8M243.50 594.7V629.6M244.00 598.5V631.1M244.50 598.8V631.5M245.00 597.9V627.3M245.50 598.7V631.8M246.00 593.8V629.3M246.50 601.6V634.5M247.00 595.2V628.4M247.50 594.5V637.3M248.00 591.7V628.8M248.50 596.1V629.2M249.00 592.2V633.0M249.50 590.8V631.5M250.00 593.8V635.4M250.50 594.9V630.8M251.00 592.1V629.9M251.50 587.1V643.5M252.00 596.5V629.4M252.50 601.2V637.0M253.00 591.3V631.3M253.50 592.7V631.8M254.00 597.2V633.8M254.50 599.4V634.2M255.00 599.4V634.5M255.50 595.1V632.3M256.00 594.9V638.0M256.50 596.2V634.2M257.00 589.7V634.1M257.50 597.5V638.7M258.00 601.8V634.7M258.50 593.5V634.3M259.00 597.8V631.0M259.50 603.1V631.4M260.00 598.7V632.3M260.50 602.9V630.8M261.00 591.2V630.0M261.50 599.7V628.1M262.00 600.9V631.4M262.50 598.8V632.1M263.00 590.7V632.2M263.50 598.3V639.6M264.00 592.0V627.8M264.50 595.9V631.9M265.00 596.0V631.3M265.50 601.6V632.8M266.00 599.4V634.4M266.50 594.1V629.6M267.00 594.0V632.9M267.50 594.3V627.0M268.00 604.0V630.5M268.50 595.3V636.5M269.00 599.5V638.8M269.50 596.0V633.4M270.00 593.5V633.7M270.50 599.1V628.8M271.00 595.3V634.7M271.50 600.6V633.2" stroke="#ff0000" stroke-width="1.0" fill="none"/>
<rect x="158.2" y="579.5" width="114.1" height="68.8" fill="none" stroke="#555" stroke-width="1.1"/>
<text transform="translate(107.07,591.4) scale(1.0827,1)" font-size="15" fill="#111">1000.5</text>
<text transform="translate(120.11,618.9) scale(1.0530,1)" font-size="15" fill="#111">1000</text>
<text transform="translate(116.5,645.9) scale(1.0434,1)" font-size="15" fill="#111">999.5</text>
<text transform="translate(170.96,663.4) scale(1.0000,1)" font-size="15" fill="#111">0.6</text>
<text transform="translate(203.46,663.4) scale(1.0000,1)" font-size="15" fill="#111">0.7</text>
<text transform="translate(240.43,663.4) scale(1.0000,1)" font-size="15" fill="#111">0.8</text>
<line x1="367.4" y1="540.2" x2="367.4" y2="603.5" stroke="#555" stroke-width="1"/>
<line x1="399.3" y1="540.2" x2="399.3" y2="603.5" stroke="#555" stroke-width="1"/>
<line x1="431.5" y1="540.2" x2="431.5" y2="603.5" stroke="#555" stroke-width="1"/>
<path d="M342.50 550.6V598.9M343.00 550.6V595.5M343.50 550.3V596.1M344.00 549.9V584.4M344.50 547.9V589.8M345.00 555.2V589.5M345.50 545.3V602.1M346.00 556.8V599.6M346.50 554.0V590.0M347.00 556.5V589.4M347.50 543.2V589.8M348.00 548.6V594.1M348.50 543.7V590.7M349.00 548.5V592.4M349.50 554.5V588.9M350.00 552.9V589.6M350.50 549.1V596.0M351.00 554.1V589.8M351.50 551.3V590.9M352.00 552.6V592.3M352.50 555.5V591.7M353.00 557.2V593.0M353.50 540.6V593.1M354.00 550.8V593.9M354.50 551.4V592.5M355.00 551.1V589.3M355.50 548.0V599.5M356.00 552.4V600.7M356.50 540.6V590.2M357.00 554.2V588.1M357.50 549.6V594.0M358.00 546.6V586.4M358.50 554.6V592.3M359.00 548.7V588.9M359.50 544.1V596.1M360.00 552.1V582.9M360.50 556.4V591.8M361.00 555.7V592.0M361.50 540.6V602.1M362.00 551.7V598.0M362.50 547.4V593.3M363.00 554.0V594.7M363.50 548.9V593.8M364.00 547.0V598.1M364.50 540.6V598.5M365.00 555.7V587.9M365.50 542.2V585.9M366.00 553.0V591.8M366.50 553.3V587.9M367.00 544.3V601.8M367.50 543.8V592.9M368.00 552.8V592.9M368.50 556.5V593.7M369.00 560.8V602.6M369.50 554.0V590.2M370.00 552.2V597.6M370.50 553.0V587.3M371.00 551.5V586.9M371.50 551.8V583.8M372.00 556.2V593.9M372.50 554.6V591.2M373.00 554.4V586.6M373.50 550.9V594.4M374.00 547.0V591.8M374.50 552.7V589.7M375.00 547.6V592.0M375.50 549.0V584.6M376.00 551.9V598.1M376.50 544.8V591.8M377.00 548.4V588.8M377.50 554.8V596.8M378.00 555.9V585.8M378.50 552.3V599.8M379.00 550.0V594.8M379.50 557.5V589.3M380.00 554.1V591.8M380.50 552.8V591.1M381.00 554.6V587.3M381.50 552.6V597.2M382.00 557.0V596.2M382.50 552.4V590.2M383.00 548.9V590.1M383.50 552.9V592.3M384.00 559.5V595.8M384.50 552.3V594.9M385.00 552.3V597.8M385.50 553.5V590.2M386.00 557.6V592.0M386.50 551.0V588.8M387.00 544.6V593.3M387.50 543.2V589.8M388.00 540.6V589.4M388.50 553.3V591.2M389.00 550.3V593.3M389.50 546.9V594.0M390.00 553.1V587.6M390.50 542.9V598.4M391.00 556.3V586.0M391.50 556.2V594.2M392.00 555.3V589.3M392.50 549.6V592.3M393.00 555.9V594.4M393.50 544.5V589.0M394.00 555.0V590.2M394.50 556.5V591.8M395.00 547.8V597.5M395.50 548.3V593.3M396.00 549.8V595.0M396.50 553.3V588.3M397.00 550.4V592.2M397.50 550.0V585.5M398.00 558.9V584.8M398.50 548.9V590.2M399.00 546.9V600.6M399.50 547.5V596.4M400.00 555.3V592.0M400.50 548.5V592.3M401.00 551.0V602.6M401.50 548.8V590.2M402.00 546.7V589.9M402.50 548.8V592.7M403.00 550.6V586.7M403.50 555.7V592.9M404.00 552.0V597.1M404.50 549.7V586.1M405.00 546.9V589.3M405.50 552.0V590.3M406.00 550.6V592.5M406.50 556.1V587.3M407.00 548.1V591.5M407.50 546.4V596.5M408.00 552.7V593.3M408.50 551.2V602.6M409.00 549.5V602.6M409.50 553.2V587.3M410.00 560.2V594.7M410.50 542.7V588.6M411.00 549.3V602.6M411.50 553.4V593.6M412.00 553.5V592.9M412.50 548.9V586.8M413.00 544.6V591.0M413.50 554.1V588.4M414.00 546.9V584.9M414.50 550.5V593.5M415.00 549.4V592.2M415.50 549.7V589.1M416.00 554.3V590.7M416.50 546.0V586.6M417.00 550.8V596.1M417.50 549.8V596.4M418.00 549.6V587.2M418.50 556.7V593.5M419.00 553.6V596.1M419.50 550.2V592.3M420.00 550.1V593.4M420.50 554.7V588.6M421.00 548.5V599.7M421.50 553.2V602.1M422.00 550.7V593.6M422.50 548.6V588.2M423.00 542.9V595.7M423.50 542.8V589.9M424.00 548.1V601.2M424.50 547.0V601.7M425.00 549.8V592.6M425.50 549.0V586.4M426.00 547.2V590.4M426.50 555.3V591.5M427.00 555.1V596.3M427.50 556.9V597.4M428.00 552.2V585.8M428.50 547.4V591.9M429.00 553.0V590.8M429.50 548.5V585.7M430.00 546.5V589.0M430.50 541.5V591.1M431.00 547.7V597.3M431.50 556.7V590.4M432.00 555.6V598.9M432.50 551.4V593.1M433.00 545.2V593.2M433.50 558.9V590.5M434.00 540.6V592.0M434.50 549.5V589.7M435.00 555.3V593.0M435.50 552.6V598.3M436.00 551.6V592.8M436.50 555.7V586.2M437.00 543.3V588.3M437.50 557.9V595.3M438.00 545.8V586.7M438.50 557.2V589.5M439.00 549.6V591.5M439.50 547.5V592.2M440.00 549.1V590.3M440.50 553.4V597.1M441.00 549.6V591.1M441.50 554.5V598.7M442.00 553.4V586.4M442.50 550.9V592.8M443.00 543.7V589.2M443.50 546.0V598.6M444.00 549.1V595.2M444.50 549.0V594.6M445.00 550.0V587.6M445.50 560.6V593.1M446.00 556.6V591.8M446.50 556.0V592.5M447.00 547.4V601.8M447.50 548.4V591.1M448.00 540.6V595.0M448.50 555.6V594.9M449.00 549.1V588.5M449.50 549.3V599.8M450.00 554.5V592.9M450.50 556.9V588.9M451.00 552.1V598.2M451.50 552.7V592.4M452.00 547.9V590.3M452.50 542.7V590.8M453.00 553.3V590.9M453.50 540.6V597.6M454.00 550.8V591.7M454.50 555.2V589.1M455.00 552.2V586.7M455.50 556.5V595.7M456.00 552.6V584.8" stroke="#ff0000" stroke-width="1.0" fill="none"/>
<rect x="341.9" y="540.2" width="114.7" height="63.3" fill="none" stroke="#555" stroke-width="1.1"/>
<text transform="translate(293.29,549) scale(1.0725,1)" font-size="15" fill="#111">1200.5</text>
<text transform="translate(302.57,577.4) scale(1.0815,1)" font-size="15" fill="#111">1200</text>
<text transform="translate(292.38,606.9) scale(1.0751,1)" font-size="15" fill="#111">1199.5</text>
<text transform="translate(358.47,618.6) scale(1.0000,1)" font-size="15" fill="#111">1.9</text>
<text transform="translate(390.68,618.6) scale(1.0000,1)" font-size="15" fill="#111">2.0</text>
<text transform="translate(422.75,618.6) scale(1.0000,1)" font-size="15" fill="#111">2.1</text>
<rect x="529.1" y="495.4" width="145.9" height="51.1" fill="#fff" stroke="#333" stroke-width="1.2"/>
<polyline points="537.3,513.5 551.7,513.5 551.7,499.9 565.1,499.9" fill="none" stroke="#0000ff" stroke-width="2" stroke-linejoin="round"/>
<polyline points="534.9,540.8 548,540.8 548,527.7 562.1,527.7" fill="none" stroke="#ff0000" stroke-width="2" stroke-linejoin="round"/>
<text transform="translate(585.54,512.8) scale(1.0598,1)" font-size="15" fill="#1a1a1a">Actual Value</text>
<text transform="translate(563.64,539) scale(1.0670,1)" font-size="15" fill="#1a1a1a">Estimated Value</text>
<ellipse cx="176.2" cy="507.8" rx="13.2" ry="14.2" fill="none" stroke="#000" stroke-width="2.5"/>
<ellipse cx="383" cy="468.5" rx="12.7" ry="14" fill="none" stroke="#000" stroke-width="2.5"/>
<text transform="translate(28.53,478.2) scale(1.0036,1)" font-size="23.5" fill="#111">1200</text>
<text transform="translate(28.52,514.3) scale(1.0082,1)" font-size="23.5" fill="#111">1000</text>
<text transform="translate(40.3,554.4) scale(1.0102,1)" font-size="23.5" fill="#111">800</text>
<text transform="translate(39.24,591.8) scale(1.0526,1)" font-size="23.5" fill="#111">600</text>
<text transform="translate(39.82,631) scale(1.0355,1)" font-size="23.5" fill="#111">400</text>
<text transform="translate(39.21,671.6) scale(1.0533,1)" font-size="23.5" fill="#111">200</text>
<text transform="translate(63.41,708.8) scale(1.1044,1)" font-size="23.5" fill="#111">0</text>
<text transform="translate(80.18,755.7) scale(1.1850,1)" font-size="22.5" fill="#111">0</text>
<text transform="translate(140.4,755.7) scale(1.0459,1)" font-size="22.5" fill="#111">0.5</text>
<text transform="translate(216.24,755.7) scale(1.0913,1)" font-size="22.5" fill="#111">1.0</text>
<text transform="translate(291.14,755.8) scale(1.0408,1)" font-size="22.5" fill="#111">1.5</text>
<text transform="translate(366.22,755.8) scale(1.0921,1)" font-size="22.5" fill="#111">2.0</text>
<text transform="translate(443.99,755.8) scale(1.0245,1)" font-size="22.5" fill="#111">2.5</text>
<text transform="translate(526.08,755.3) scale(1.1297,1)" font-size="22.5" fill="#111">3</text>
<text transform="translate(591.86,755.3) scale(1.0547,1)" font-size="22.5" fill="#111">3.5</text>
<text transform="translate(670.52,755.5) scale(1.0900,1)" font-size="22.5" fill="#111">4</text>
<text transform="translate(19,284.38) rotate(-90) scale(0.9850,1)" font-size="24" fill="#111">Rotational Speed</text>
<text transform="translate(19,97.05) rotate(-90) scale(0.9311,1)" font-size="24" fill="#111">rpm</text>
<path d="M1.2,101.9 Q10.2,114.1 19.2,101.9" fill="none" stroke="#3a3a3a" stroke-width="1.0"/>
<path d="M1.2,56 Q10.2,43.6 19.2,56" fill="none" stroke="#3a3a3a" stroke-width="1.0"/>
<text transform="translate(20.2,711.69) rotate(-90) scale(0.9997,1)" font-size="24" fill="#111">Rotational Speed</text>
<text transform="translate(20.2,520.97) rotate(-90) scale(0.9734,1)" font-size="24" fill="#111">rpm</text>
<path d="M2.1,525.6 Q11.05,538.2 20,525.6" fill="none" stroke="#3a3a3a" stroke-width="1.0"/>
<path d="M2.1,479.6 Q11.05,464.2 20,479.6" fill="none" stroke="#3a3a3a" stroke-width="1.0"/>
<text transform="translate(321.28,350.7) scale(0.9700,1)" font-size="24" fill="#111">Time</text>
<text transform="translate(394.29,350.7) scale(1.0283,1)" font-size="24" fill="#111">s</text>
<path d="M390.5,332.9 Q375.9,342.1 390.5,351.3" fill="none" stroke="#3a3a3a" stroke-width="1.0"/>
<path d="M406.5,332.9 Q419.5,342.1 406.5,351.3" fill="none" stroke="#3a3a3a" stroke-width="1.0"/>
<text transform="translate(329.98,784.9) scale(0.9760,1)" font-size="24" fill="#111">Time</text>
<text transform="translate(403.18,784.9) scale(1.1351,1)" font-size="24" fill="#111">s</text>
<path d="M399.5,766.3 Q385.7,775.9 399.5,785.5" fill="none" stroke="#3a3a3a" stroke-width="1.0"/>
<path d="M416.4,766.3 Q429.2,775.9 416.4,785.5" fill="none" stroke="#3a3a3a" stroke-width="1.0"/>
<text transform="translate(77.33,407.9) scale(1.0061,1)" font-size="22" fill="#111">(a) Speed estimation variation curve of the traditional SMO</text>
<text transform="translate(39.23,838.9) scale(1.0066,1)" font-size="22" fill="#111">(b) Speed estimation variation curve of the improved adaptive SMO</text>
</svg></body></html>
